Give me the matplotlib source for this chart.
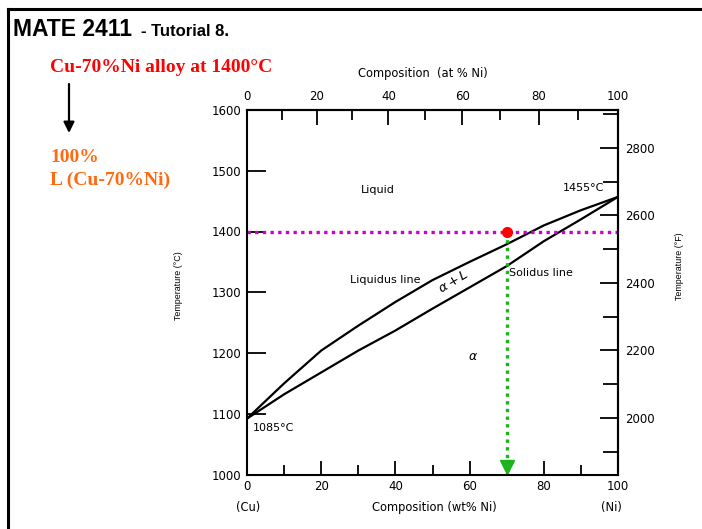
import matplotlib
matplotlib.use("Agg")
import matplotlib.pyplot as plt
from matplotlib.lines import Line2D
from matplotlib.patches import FancyArrowPatch
from matplotlib.ticker import FixedLocator

# phase boundaries (wt% Ni, deg C)
wt_pts = [0, 5, 10, 20, 30, 40, 50, 60, 70, 80, 90, 100]
liquidus = [1092, 1121, 1150, 1204, 1245, 1284, 1320, 1350, 1379, 1410, 1435, 1457]
solidus = [1092, 1112, 1132, 1168, 1204, 1237, 1273, 1308, 1343, 1384, 1420, 1457]

# the alloy being looked at
alloy_wt = 70
alloy_T = 1400

wt_ticks = [0, 20, 40, 60, 80, 100]
wt_minor = [10, 30, 50, 70, 90]
at_ticks = [0, 20, 40, 60, 80, 100]
at_minor = [10, 30, 50, 70, 90]
degC_ticks = [1000, 1100, 1200, 1300, 1400, 1500, 1600]
degF_ticks = [2000, 2200, 2400, 2600, 2800]
degF_minor = [1900, 2100, 2300, 2500, 2700, 2900]

M_NI = 58.69
M_CU = 63.55


def wt2at(w):
    n = w / M_NI
    return n / (n + (100 - w) / M_CU) * 100


def at2wt(a):
    m = a * M_NI
    return m / (m + (100 - a) * M_CU) * 100


def c2f(t):
    return t * 1.8 + 32


def f2c(t):
    return (t - 32) / 1.8


W, H = 702, 529
fig = plt.figure(figsize=(W / 100, H / 100), dpi=100)

# slide frame (only top and left edges visible)
fig.add_artist(Line2D([8 / W, 8 / W], [0, 1 - 8.5 / H], transform=fig.transFigure, color="black", lw=2.2))
fig.add_artist(Line2D([8 / W, 1], [1 - 8.5 / H, 1 - 8.5 / H], transform=fig.transFigure, color="black", lw=2.2))

fig.text(13 / W, 1 - 36 / H, "MATE 2411", family="Liberation Sans", weight="bold", fontsize=16.5, va="baseline")
fig.text(141 / W, 1 - 36 / H, "- Tutorial 8.", family="Liberation Sans", weight="bold", fontsize=12, va="baseline")

fig.text(50 / W, 1 - 72 / H, "Cu-70%Ni alloy at 1400°C", family="Liberation Serif", weight="bold",
         fontsize=14, color="#ff0000", va="baseline")
fig.text(50 / W, 1 - 162 / H, "100%", family="Liberation Serif", weight="bold",
         fontsize=14, color="#ff6a10", va="baseline")
fig.text(50 / W, 1 - 185 / H, "L (Cu-70%Ni)", family="Liberation Serif", weight="bold",
         fontsize=14, color="#ff6a10", va="baseline")
fig.add_artist(FancyArrowPatch((69 / W, 1 - 84 / H), (69 / W, 1 - 133 / H), transform=fig.transFigure,
                               arrowstyle="-|>", color="black", lw=1.6, mutation_scale=16,
                               shrinkA=0, shrinkB=0))

ax = fig.add_axes([247 / W, 1 - 474.5 / H, (618 - 247) / W, (474.5 - 110) / H])
ax.plot(wt_pts, liquidus, color="black", lw=1.6)
ax.plot(wt_pts, solidus, color="black", lw=1.6)

ax.axhline(alloy_T, color="#cc00cc", lw=2.4, linestyle=(0, (1, 1.3)))
ax.plot([alloy_wt, alloy_wt], [alloy_T, 1022], color="#1db31d", lw=2.4, linestyle=(0, (1, 1.3)))
ax.plot(alloy_wt, 1012, marker="v", color="#1db31d", markersize=10)
ax.plot(alloy_wt, alloy_T, marker="o", color="#ff0000", markersize=7)

ax.set_xlim(0, 100)
ax.set_ylim(1000, 1600)
ax.set_xticks(wt_ticks)
ax.xaxis.set_minor_locator(FixedLocator(wt_minor))
ax.set_yticks(degC_ticks)

txt = dict(family="DejaVu Sans", fontsize=8)
ax.text(35.3, 1468, "Liquid", ha="center", va="center", **txt)
ax.text(90.8, 1471, "1455°C", ha="center", va="center", **txt)
ax.text(37.2, 1320, "Liquidus line", ha="center", va="center", **txt)
ax.text(70.6, 1332, "Solidus line", ha="left", va="center", **txt)
ax.text(1.6, 1076, "1085°C", ha="left", va="center", **txt)
ax.text(55.6, 1318, r"$\alpha + L$", ha="center", va="center", rotation=31, fontsize=9.5)
ax.text(61, 1194, r"$\alpha$", ha="center", va="center", fontsize=9)

ax.tick_params(which="both", direction="in", width=1.3, labelsize=8.5, top=False, right=False)
ax.tick_params(axis="y", length=14, pad=4)
ax.tick_params(axis="x", which="major", length=10, pad=4)
ax.tick_params(axis="x", which="minor", length=7.5)
for s in ax.spines.values():
    s.set_linewidth(1.5)

secx = ax.secondary_xaxis("top", functions=(wt2at, at2wt))
secx.set_xticks(at_ticks)
secx.xaxis.set_minor_locator(FixedLocator(at_minor))
secx.tick_params(which="both", direction="in", width=1.3, labelsize=8.5, pad=5)
secx.tick_params(which="major", length=11)
secx.tick_params(which="minor", length=7)
secx.spines["top"].set_linewidth(1.5)

secy = ax.secondary_yaxis("right", functions=(c2f, f2c))
secy.set_yticks(degF_ticks)
secy.yaxis.set_minor_locator(FixedLocator(degF_minor))
secy.tick_params(which="both", direction="in", width=1.3, labelsize=8.5, pad=5)
secy.tick_params(which="major", length=13)
secy.tick_params(which="minor", length=11)
secy.spines["right"].set_linewidth(1.5)

lab = dict(family="DejaVu Sans", fontsize=8.3, ha="center", va="center")
fig.text(423 / W, 1 - 73 / H, "Composition  (at % Ni)", **lab)
fig.text(434 / W, 1 - 507 / H, "Composition (wt% Ni)", **lab)
fig.text(248 / W, 1 - 507 / H, "(Cu)", **lab)
fig.text(611 / W, 1 - 507 / H, "(Ni)", **lab)
fig.text(178 / W, 1 - 286 / H, "Temperature (°C)", rotation=90, family="Liberation Sans", fontsize=6.4,
         ha="center", va="center")
fig.text(680 / W, 1 - 266 / H, "Temperature (°F)", rotation=90, family="Liberation Sans", fontsize=6.4,
         ha="center", va="center")

fig.savefig("out.png", dpi=100)
